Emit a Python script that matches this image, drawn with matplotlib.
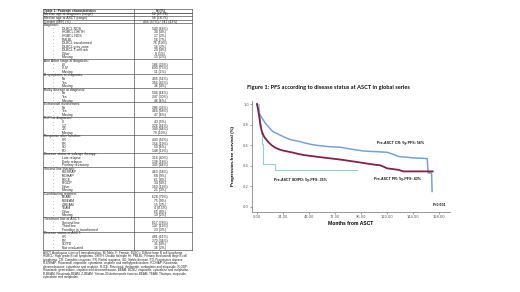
import textwrap
import matplotlib
matplotlib.use("Agg")
import matplotlib.pyplot as plt
from matplotlib.lines import Line2D

# ---------------- data ----------------
table_title = ["Table 1: Patients characteristics", "N (%)"]
table_rows = [
    ("row", "Median age at diagnosis (range)", "52 (17-74)"),
    ("row", "Median age at ASCT (range)", "56 (18-76)"),
    ("row", "Gender (M/F) (%)", "456 (57%) / 341 (43%)"),
    ("group", "Diagnosis:", ""),
    ("item", "DLBCL NOS", "540 (68%)"),
    ("item", "HGBCL DH/TH", "30 (4%)"),
    ("item", "HGBCL NOS", "17 (2%)"),
    ("item", "PMLBL", "56 (7%)"),
    ("item", "DLBCL transformed", "76 (10%)"),
    ("item", "DLBCL grey zone", "16 (2%)"),
    ("item", "DLBCL T-cell rich", "29 (4%)"),
    ("item", "Other", "8 (1%)"),
    ("item", "Missing", "15 (2%)"),
    ("group", "Ann Arbor stage at diagnosis:", ""),
    ("item", "I-II", "186 (23%)"),
    ("item", "III-IV", "600 (75%)"),
    ("item", "Missing", "11 (2%)"),
    ("group", "B symptoms at diagnosis:", ""),
    ("item", "No", "405 (51%)"),
    ("item", "Yes", "356 (45%)"),
    ("item", "Missing", "36 (4%)"),
    ("group", "Bulky disease at diagnosis:", ""),
    ("item", "No", "504 (64%)"),
    ("item", "Yes", "247 (30%)"),
    ("item", "Missing", "46 (6%)"),
    ("group", "Extranodal involvement:", ""),
    ("item", "No", "286 (36%)"),
    ("item", "Yes", "464 (58%)"),
    ("item", "Missing", "47 (6%)"),
    ("group", "R-IPI at diagnosis:", ""),
    ("item", "0", "43 (5%)"),
    ("item", "1-2", "326 (41%)"),
    ("item", "3-5", "349 (44%)"),
    ("item", "Missing", "79 (10%)"),
    ("group", "Response after frontline:", ""),
    ("item", "CR", "443 (56%)"),
    ("item", "PR", "154 (19%)"),
    ("item", "SD", "50 (6%)"),
    ("item", "PD", "148 (19%)"),
    ("group", "Disease status at salvage therapy:", ""),
    ("item", "Late relapse", "314 (40%)"),
    ("item", "Early relapse", "138 (18%)"),
    ("item", "Primary refractory", "345 (44%)"),
    ("group", "Second line therapy:", ""),
    ("item", "R-ESHAP", "463 (58%)"),
    ("item", "R-DHAP", "68 (9%)"),
    ("item", "R-ICE", "61 (8%)"),
    ("item", "R-GDP", "34 (4%)"),
    ("item", "Other", "150 (19%)"),
    ("item", "Missing", "21 (3%)"),
    ("group", "Conditioning regimen:", ""),
    ("item", "BEAM", "628 (79%)"),
    ("item", "R-BEAM", "75 (9%)"),
    ("item", "Z-BEAM", "15 (2%)"),
    ("item", "TEAM", "4 (0.5%)"),
    ("item", "Other", "65 (8%)"),
    ("item", "Missing", "10 (2%)"),
    ("group", "Treatment line at ASCT:", ""),
    ("item", "Second line", "617 (78%)"),
    ("item", "Third line", "147 (19%)"),
    ("item", "Frontline in transformed", "23 (3%)"),
    ("group", "Disease status at ASCT:", ""),
    ("item", "CR", "481 (61%)"),
    ("item", "PR", "270 (34%)"),
    ("item", "SD/PD", "31 (4%)"),
    ("item", "Not evaluated", "16 (2%)"),
]
footnote = ("ASCT: Autologous stem cell transplantation. M: Male. F: Female. DLBCL: Diffuse large B cell "
            "lymphoma. HGBCL: High grade B cell lymphoma. DH/TH: Double hit/triple hit. PMLBL: Primary "
            "mediastinal large B cell lymphoma. CR: Complete response. PR: Partial response. SD: Stable "
            "disease. PD: Progressive disease. R-ESHAP: Rituximab, etoposide, cytarabine, cisplatin and "
            "methylprednisolone. R-DHAP: Rituximab, dexamethasone, cytarabine and cisplatin. R-ICE: "
            "Rituximab, ifosfamide, carboplatin and etoposide. R-GDP: Rituximab, gemcitabine, cisplatin "
            "and dexamethasone. BEAM: BCNU, etoposide, cytarabine and melphalan. R-BEAM: Rituximab-BEAM. "
            "Z-BEAM: Yttrium-90-ibritumomab tiuxetan-BEAM. TEAM: Thiotepa, etoposide, cytarabine and melphalan.")

figure_title = "Figure 1: PFS according to disease status at ASCT in global series"
x_label = "Months from ASCT"
y_label = "Progression-free survival (%)"
x_ticks = [0, 24, 48, 72, 96, 120, 144, 168]
x_tick_labels = ["0.00", "24.00", "48.00", "72.00", "96.00", "120.00", "144.00", "168.00"]
y_ticks = [0.0, 0.2, 0.4, 0.6, 0.8, 1.0]
y_tick_labels = ["0.0", "0.2", "0.4", "0.6", "0.8", "1.0"]

cr_months = [0, 1, 2.2, 4, 5.8, 8, 10.5, 13, 15, 18, 21, 26, 30.5, 35, 39.7, 44, 49, 54, 58, 67, 77, 86,
             92, 98, 104, 110.5, 120, 126, 130.5, 136, 144, 150, 157, 157.8, 161, 161.5]
cr_pfs = [1.0, 0.96, 0.91, 0.875, 0.845, 0.81, 0.78, 0.75, 0.73, 0.715, 0.70, 0.675, 0.655, 0.645, 0.635,
          0.622, 0.61, 0.60, 0.595, 0.585, 0.58, 0.563, 0.553, 0.544, 0.54, 0.537, 0.531, 0.51, 0.49,
          0.485, 0.476, 0.474, 0.47, 0.33, 0.33, 0.15]
cr_label = "Pre-ASCT CR: 5y-PFS: 56%"

pr_months = [0, 1, 2, 3.4, 4.5, 5.8, 7, 8.9, 11, 13.5, 16, 18, 21, 24.3, 29, 33.5, 38, 42.8, 49, 55, 61,
             67.4, 74, 79.7, 86, 92, 98, 104, 109, 113.5, 117, 120, 125, 130.5, 135, 162]
pr_pfs = [1.0, 0.95, 0.88, 0.78, 0.735, 0.70, 0.675, 0.65, 0.625, 0.60, 0.582, 0.57, 0.557, 0.547, 0.537,
          0.527, 0.515, 0.505, 0.496, 0.488, 0.48, 0.472, 0.464, 0.456, 0.446, 0.437, 0.427, 0.417, 0.41,
          0.405, 0.39, 0.375, 0.368, 0.36, 0.345, 0.345]
pr_label = "Pre-ASCT PR: 5y-PFS: 43%"

sdpd_months = [0, 1.5, 2.5, 3.5, 4.5, 5.5, 17, 92]
sdpd_pfs = [1.0, 0.9, 0.81, 0.71, 0.61, 0.42, 0.36, 0.36]
sdpd_label = "Pre-ASCT SD/PD: 5y-PFS: 35%"

p_value = "P<0.001"

# ---------------- figure ----------------
W, H = 520, 292
fig = plt.figure(figsize=(W / 100, H / 100), dpi=100)
fig.patch.set_facecolor("white")

def fx(px):
    return px / W

def fy(py):
    return 1 - py / H

# ---- table ----
tx0, tx_mid, tx1 = 43, 134, 192
ty0 = 9.0
lh = 3.59
tfont = dict(family="Liberation Sans", fontsize=2.4, color="#222222")
line_col = "#555555"

def hline(y, lw=0.5):
    fig.add_artist(Line2D([fx(tx0), fx(tx1)], [fy(y), fy(y)], color=line_col, lw=lw))

hline(ty0)
fig.text(fx(tx0 + 1), fy(ty0 + lh / 2), table_title[0], va="center", ha="left", fontweight="bold", **tfont)
fig.text(fx(160), fy(ty0 + lh / 2), table_title[1], va="center", ha="center", fontweight="bold", **tfont)
y = ty0 + lh
hline(y)
for kind, lab, val in table_rows:
    if kind in ("row", "group"):
        hline(y)
    yc = y + lh / 2
    if kind == "item":
        fig.text(fx(53), fy(yc), "-", va="center", ha="left", **tfont)
        fig.text(fx(62), fy(yc), lab, va="center", ha="left", **tfont)
    else:
        fig.text(fx(tx0 + 1), fy(yc), lab, va="center", ha="left", **tfont)
    if val:
        fig.text(fx(160), fy(yc), val, va="center", ha="center", **tfont)
    y += lh
ty_end = y
hline(ty_end)
for xv in (tx0, tx_mid, tx1):
    fig.add_artist(Line2D([fx(xv), fx(xv)], [fy(ty0), fy(ty_end)], color=line_col, lw=0.5))

for i, ln in enumerate(textwrap.wrap(footnote, 106)):
    fig.text(fx(tx0), fy(ty_end + 3 + i * 3.5), ln, va="center", ha="left",
             family="Liberation Sans", fontsize=2.2, color="#222222")

# ---- KM plot ----
ax = fig.add_axes([fx(252), fy(212), fx(450) - fx(252), fy(101) - fy(212)])
ax.set_xlim(-4.6, 178)
ax.set_ylim(-0.05, 1.03)
ax.plot(sdpd_months, sdpd_pfs, drawstyle="steps-post", color="#8fd2d8", lw=0.8)
ax.plot(cr_months, cr_pfs, color="#74a2de", lw=1.1)
ax.plot(pr_months, pr_pfs, color="#861e4e", lw=1.3)

for s in ("top", "right"):
    ax.spines[s].set_visible(False)
for s in ("left", "bottom"):
    ax.spines[s].set_color("#888888")
    ax.spines[s].set_linewidth(0.6)
ax.set_xticks(x_ticks)
ax.set_xticklabels(x_tick_labels)
ax.set_yticks(y_ticks)
ax.set_yticklabels(y_tick_labels)
ax.tick_params(labelsize=2.6, length=1.2, width=0.4, pad=1.0, colors="#555555")
ax.set_xlabel(x_label, fontsize=3.6, fontweight="bold", family="Liberation Sans", labelpad=1.5)
ax.set_ylabel(y_label, fontsize=3.2, fontweight="bold", family="Liberation Sans", labelpad=6)

afont = dict(fontsize=2.6, fontweight="bold", family="Liberation Sans", color="#111111")
ax.text(111, 0.62, cr_label, va="center", ha="left", **afont)
ax.text(108, 0.27, pr_label, va="center", ha="left", **afont)
ax.text(16, 0.26, sdpd_label, va="center", ha="left", **afont)
ax.text(162, 0.02, p_value, va="center", ha="left", **afont)

fig.text(fx(247), fy(88), figure_title, va="center", ha="left",
         family="Lato", fontweight="bold", fontsize=4.1, color="#111111")

fig.savefig("out.png", dpi=100, facecolor="white")
